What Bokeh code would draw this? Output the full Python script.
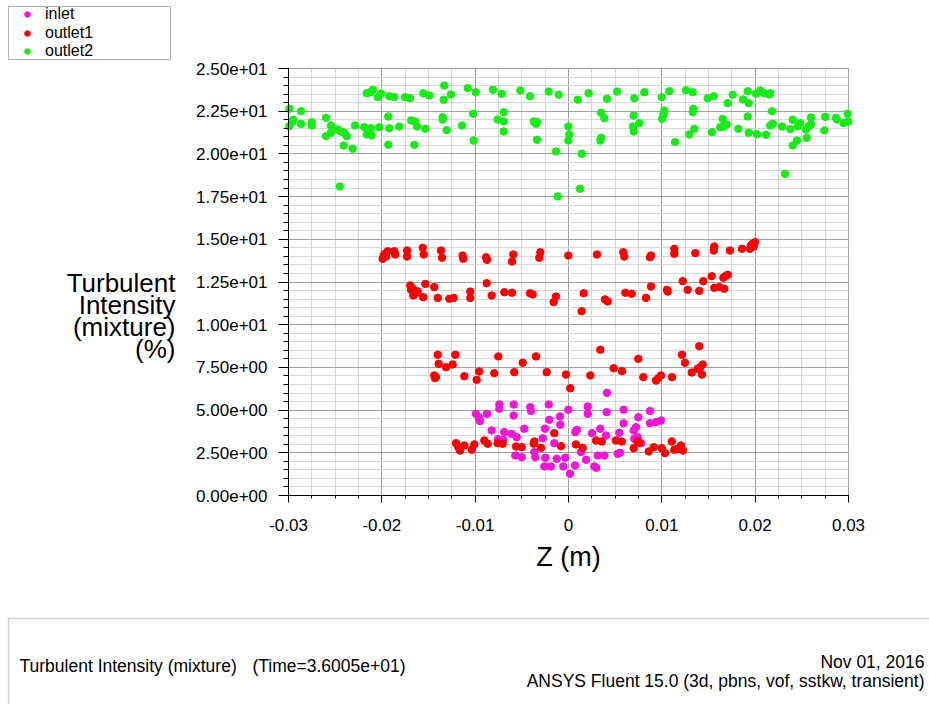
from bokeh.plotting import figure
from bokeh.models import (ColumnDataSource, Range1d, FixedTicker, Label, Legend,
                          LegendItem, BoxAnnotation)
from bokeh.embed import file_html
from bokeh.resources import INLINE

FONT = "Liberation Sans"

# ---------------- data (Z in metres, turbulent intensity in %) ----------------
inlet_z = [-0.00991, -0.00962, -0.00948, -0.00873, -0.00823, -0.00741, -0.00741, -0.00755,
           -0.00699, -0.00688, -0.00587, -0.00587, -0.00609, -0.00555, -0.00570, -0.00501,
           -0.00474, -0.00409, -0.00402, -0.00366, -0.00356, -0.00276, -0.00252, -0.00249,
           -0.00259, -0.00188, -0.00212, -0.00206, -0.00152, -0.00126, -0.00091, -0.00088,
           -0.00056, -0.00034, -0.00002, 0.00016, 0.00070, 0.00091, 0.00073, 0.00134,
           0.00188, 0.00206, 0.00206, 0.00252, 0.00276, 0.00298, 0.00313, 0.00384,
           0.00341, 0.00402, 0.00412, 0.00409, 0.00527, 0.00552, 0.00544, 0.00591,
           0.00591, 0.00699, 0.00723, 0.00705, 0.00741, 0.00748, 0.00777, 0.00873,
           0.00873, 0.00937, 0.00991]
inlet_ti = [4.78, 4.58, 4.35, 4.78, 3.81, 5.33, 5.08, 3.30,
            3.26, 3.71, 5.33, 4.68, 3.61, 3.41, 2.34, 2.24,
            3.91, 5.17, 4.94, 2.54, 2.24, 3.35, 3.91, 2.21,
            1.70, 1.70, 5.33, 4.43, 3.06, 2.15, 4.63, 4.14,
            1.70, 2.21, 5.02, 1.27, 1.76, 3.85, 3.71, 2.54,
            2.09, 5.21, 4.78, 3.65, 1.70, 1.62, 2.34, 2.34,
            3.91, 3.51, 6.01, 4.88, 2.44, 2.50, 3.67, 5.02,
            4.23, 3.81, 4.00, 3.32, 3.41, 4.58, 3.06, 4.94,
            4.23, 4.29, 4.39]

outlet1_z = [
    # upper band
    -0.01991, -0.01980, -0.01966, -0.01955, -0.01937, -0.01866, -0.01856, -0.01730,
    -0.01730, -0.01562, -0.01551, -0.01366, -0.01355, -0.01134, -0.01127, -0.00884,
    -0.00873, -0.00591, -0.00605, -0.00302, -0.00313, -0.00002, 0.00305, 0.00587,
    0.00598, 0.00873, 0.00884, 0.01134, 0.01134, 0.01359, 0.01562, 0.01556,
    0.01730, 0.01859, 0.01945, 0.01955, 0.01973, 0.01998, 0.01984,
    # second band
    -0.01695, -0.01669, -0.01652, -0.01687, -0.01634, -0.01616, -0.01663, -0.01534,
    -0.01556, -0.01438, -0.01401, -0.01277, -0.01230, -0.01052, -0.01052, -0.00876,
    -0.00823, -0.00688, -0.00605, -0.00412, -0.00384, -0.00159, -0.00134, 0.00163,
    0.00141, 0.00391, 0.00420, 0.00609, 0.00677, 0.00830, 0.00884, 0.01055,
    0.01063, 0.01224, 0.01277, 0.01401, 0.01444, 0.01534, 0.01562, 0.01616,
    0.01669, 0.01659, 0.01687, 0.01706,
    # third band
    -0.01401, -0.01391, -0.01438, -0.01430, -0.01420, -0.01312, -0.01241, -0.01213,
    -0.01116, -0.00984, -0.00956, -0.00795, -0.00752, -0.00581, -0.00491, -0.00348,
    -0.00234, -0.00027, 0.00019, 0.00234, 0.00341, 0.00484, 0.00573, 0.00748,
    0.00801, 0.00937, 0.00962, 0.00991, 0.01109, 0.01216, 0.01248, 0.01320,
    0.01401, 0.01384, 0.01412, 0.01438, 0.01430,
    # lowest band
    -0.01205, -0.01162, -0.01116, -0.01181, -0.01037, -0.01009, -0.00902, -0.00866,
    -0.00759, -0.00705, -0.00562, -0.00501, -0.00366, -0.00373, -0.00295, -0.00152,
    -0.00080, 0.00080, 0.00152, 0.00295, 0.00356, 0.00509, 0.00570, 0.00699,
    0.00759, 0.00741, 0.00859, 0.00913, 0.00999, 0.01034, 0.01106, 0.01134,
    0.01170, 0.01205, 0.01227]
outlet1_ti = [
    13.86, 14.05, 14.15, 13.99, 14.30, 14.30, 14.11, 14.34,
    13.99, 14.50, 14.11, 14.34, 13.92, 14.05, 13.86, 13.95,
    13.80, 14.11, 13.70, 14.24, 13.92, 14.05, 14.11, 14.24,
    13.99, 13.95, 14.05, 14.44, 14.15, 14.19, 14.58, 14.34,
    14.34, 14.44, 14.44, 14.64, 14.74, 14.83, 14.58,
    12.30, 12.10, 12.00, 12.04, 11.84, 11.94, 11.71, 12.39,
    11.61, 12.20, 11.57, 11.52, 11.57, 11.94, 11.57, 12.43,
    11.71, 11.90, 11.87, 11.84, 11.77, 11.32, 11.65, 11.84,
    10.79, 11.48, 11.36, 11.87, 11.81, 11.57, 12.24, 12.04,
    11.94, 12.55, 12.04, 11.98, 12.55, 12.84, 12.16, 12.20,
    12.10, 12.75, 12.86, 12.92,
    8.24, 7.71, 7.03, 6.87, 6.93, 7.51, 7.67, 8.24,
    6.98, 6.77, 7.26, 7.16, 8.14, 7.22, 7.77, 8.14,
    7.22, 7.08, 6.28, 7.03, 8.53, 7.45, 7.28, 8.00,
    6.93, 6.73, 6.87, 7.03, 6.93, 8.24, 7.77, 7.20,
    8.74, 7.42, 7.51, 7.67, 7.08,
    3.06, 2.63, 2.93, 2.83, 2.68, 2.99, 3.22, 3.03,
    3.06, 3.03, 2.87, 2.83, 3.16, 3.03, 2.79, 3.65,
    2.89, 2.99, 2.79, 3.22, 3.16, 3.22, 3.16, 2.77,
    3.09, 3.16, 2.58, 2.83, 2.77, 2.48, 3.16, 2.68,
    2.73, 2.93, 2.63]

outlet2_z = [
    -0.02991, -0.02948, -0.02962, -0.02991, -0.02866, -0.02866, -0.02751, -0.02751,
    -0.02598, -0.02545, -0.02598, -0.02545, -0.02473, -0.02437, -0.02402, -0.02376,
    -0.02409, -0.02312, -0.02287, -0.02451, -0.02188, -0.02116, -0.02162, -0.02109,
    -0.02162, -0.02124, -0.02095, -0.02044, -0.02009, -0.02027, -0.01931, -0.01920,
    -0.01931, -0.01920, -0.01866, -0.01813, -0.01752, -0.01698, -0.01687, -0.01645,
    -0.01623, -0.01652, -0.01556, -0.01491, -0.01534, -0.01348, -0.01348, -0.01331,
    -0.01337, -0.01259, -0.01305, -0.01141, -0.01080, -0.00994, -0.01023, -0.01016,
    -0.00809, -0.00716, -0.00759, -0.00694, -0.00694, -0.00694, -0.00516, -0.00412,
    -0.00373, -0.00348, -0.00337, -0.00337, -0.00212, -0.00105, -0.00134, -0.00116,
    -0.00002, 0.00009, -0.00002, 0.00099, 0.00141, 0.00123, 0.00216, 0.00348,
    0.00384, 0.00348, 0.00341, 0.00412, 0.00520, 0.00699, 0.00691, 0.00699,
    0.00759, 0.00705, 0.00812, 0.00999, 0.01080, 0.01026, 0.01016, 0.01002,
    0.01141, 0.01259, 0.01331, 0.01337, 0.01331, 0.01348, 0.01294, 0.01491,
    0.01556, 0.01537, 0.01652, 0.01626, 0.01663, 0.01695, 0.01706, 0.01759,
    0.01819, 0.01870, 0.01931, 0.01920, 0.01920, 0.01931, 0.02020, 0.02009,
    0.02055, 0.02098, 0.02162, 0.02151, 0.02180, 0.02116, 0.02162, 0.02188,
    0.02287, 0.02402, 0.02376, 0.02456, 0.02483, 0.02448, 0.02402, 0.02320,
    0.02545, 0.02573, 0.02598, 0.02598, 0.02552, 0.02751, 0.02741, 0.02866,
    0.02877, 0.02948, 0.02991, 0.02998]
outlet2_ti = [
    22.64, 22.00, 21.86, 21.62, 22.50, 21.76, 21.86, 21.66,
    22.11, 21.66, 21.04, 21.24, 21.43, 21.31, 21.24, 21.04,
    20.49, 20.30, 21.66, 18.09, 21.56, 21.50, 21.14, 21.08,
    23.55, 23.61, 23.75, 23.32, 23.52, 21.56, 22.19, 21.50,
    20.53, 23.38, 23.32, 21.60, 23.32, 23.26, 21.96, 21.90,
    21.60, 20.53, 23.55, 23.42, 21.47, 22.15, 22.01, 24.00,
    23.17, 23.48, 21.39, 21.66, 23.85, 23.61, 22.35, 20.78,
    23.75, 23.52, 22.01, 21.90, 22.44, 21.31, 23.71, 23.38,
    21.90, 21.76, 21.86, 20.83, 23.65, 23.46, 20.14, 17.51,
    21.60, 21.14, 20.78, 23.17, 20.01, 17.96, 23.55, 22.41,
    22.09, 20.94, 20.78, 23.23, 23.65, 22.25, 21.60, 21.31,
    21.80, 23.26, 23.61, 23.32, 23.67, 22.54, 22.29, 22.05,
    20.69, 23.73, 23.61, 22.64, 22.44, 21.47, 21.14, 23.26,
    23.38, 21.27, 22.05, 21.56, 21.60, 21.72, 22.97, 23.46,
    21.47, 23.19, 22.97, 23.67, 22.19, 21.24, 21.15, 23.52,
    23.71, 23.55, 23.55, 23.48, 22.50, 21.12, 21.66, 21.76,
    21.60, 22.00, 21.45, 21.62, 21.80, 20.78, 20.49, 18.83,
    21.43, 21.62, 21.72, 22.13, 20.94, 22.17, 21.37, 22.11,
    22.01, 21.80, 22.35, 21.90]

series_names = ["inlet", "outlet1", "outlet2"]
series_colors = ["#f514d8", "#ff0000", "#16ec16"]

x_ticks = [-0.03, -0.02, -0.01, 0.0, 0.01, 0.02, 0.03]
x_tick_labels = ["-0.03", "-0.02", "-0.01", "0", "0.01", "0.02", "0.03"]
y_ticks = [0.0, 2.5, 5.0, 7.5, 10.0, 12.5, 15.0, 17.5, 20.0, 22.5, 25.0]
y_tick_labels = ["0.00e+00", "2.50e+00", "5.00e+00", "7.50e+00", "1.00e+01", "1.25e+01",
                 "1.50e+01", "1.75e+01", "2.00e+01", "2.25e+01", "2.50e+01"]
x_minor = [i * 0.0025 for i in range(-12, 13)]
y_minor = [i * 0.5 for i in range(0, 51)]
x_lim = (-0.03, 0.03)
y_lim = (0.0, 25.0)

y_title_lines = ["Turbulent", "Intensity", "(mixture)", "(%)"]
footer_left = ["Turbulent Intensity (mixture)", "(Time=3.6005e+01)"]
footer_right = ["Nov 01, 2016", "ANSYS Fluent 15.0 (3d, pbns, vof, sstkw, transient)"]

# ---------------- layout geometry (pixels on the 929x704 canvas) ----------------
W, H = 929, 704
PL, PR, PT, PB = 288, 848, 68, 495          # plot-area edges
sx = (PR - PL) / (x_lim[1] - x_lim[0])
sy = (PB - PT) / (y_lim[1] - y_lim[0])
x_range = Range1d(x_lim[0] - PL / sx, x_lim[1] + (W - PR) / sx)
y_range = Range1d(y_lim[0] - (H - PB) / sy, y_lim[1] + PT / sy)

p = figure(width=W, height=H, output_backend="svg", toolbar_location=None,
           x_range=x_range, y_range=y_range,
           min_border_left=0, min_border_right=0, min_border_top=0, min_border_bottom=0)
p.title.visible = False
p.background_fill_color = "white"
p.border_fill_color = "white"
p.outline_line_color = None

xt = FixedTicker(ticks=x_ticks, minor_ticks=x_minor)
yt = FixedTicker(ticks=y_ticks, minor_ticks=y_minor)
p.xaxis.ticker = xt
p.yaxis.ticker = yt
p.xgrid.ticker = xt
p.ygrid.ticker = yt
p.xaxis.major_label_overrides = dict(zip(x_ticks, x_tick_labels))
p.yaxis.major_label_overrides = dict(zip(y_ticks, y_tick_labels))

# axes drawn at the plot-area edges, limited to the data window
p.xaxis.fixed_location = y_lim[0]
p.yaxis.fixed_location = x_lim[0]
p.xaxis.bounds = x_lim
p.yaxis.bounds = y_lim
p.xgrid.bounds = x_lim
p.xgrid.cross_bounds = y_lim
p.ygrid.bounds = y_lim
p.ygrid.cross_bounds = x_lim

for g in (p.xgrid, p.ygrid):
    g.grid_line_color = "#a0a0a0"
    g.minor_grid_line_color = "#d6d6d6"
    g.grid_line_width = 1
    g.minor_grid_line_width = 1

for ax in (p.xaxis, p.yaxis):
    ax.axis_line_color = "black"
    ax.major_tick_line_color = "black"
    ax.minor_tick_line_color = "black"
    ax.major_tick_in = 0
    ax.minor_tick_in = 0
    ax.major_label_text_font = FONT
    ax.major_label_text_font_size = "17px"
    ax.major_label_text_color = "black"

p.yaxis.major_tick_out = 10
p.yaxis.minor_tick_out = 5
p.yaxis.major_label_standoff = 11
p.xaxis.major_tick_out = 7
p.xaxis.minor_tick_out = 3
p.xaxis.major_label_standoff = 16

p.xaxis.axis_label = "Z (m)"
p.xaxis.axis_label_text_font = FONT
p.xaxis.axis_label_text_font_size = "27px"
p.xaxis.axis_label_text_font_style = "normal"
p.xaxis.axis_label_text_color = "black"
p.xaxis.axis_label_standoff = 8

renderers = []
for zs, tis, col in ((inlet_z, inlet_ti, series_colors[0]),
                     (outlet1_z, outlet1_ti, series_colors[1]),
                     (outlet2_z, outlet2_ti, series_colors[2])):
    src = ColumnDataSource(dict(z=zs, ti=tis))
    r = p.scatter(x="z", y="ti", source=src, size=7.5, marker="circle",
                  fill_color=col, line_color=col)
    renderers.append(r)

# legend: one framed box in the top-left corner, entries closely stacked
p.add_layout(BoxAnnotation(left=8, right=170, top=H - 6, bottom=H - 59,
                           left_units="screen", right_units="screen",
                           top_units="screen", bottom_units="screen",
                           fill_color="white", fill_alpha=1,
                           line_color="black", line_width=1))
for name, r, bottom in zip(series_names, renderers, (23, 41.5, 60)):
    lg = Legend(items=[LegendItem(label=name, renderers=[r])],
                location=(9, H - bottom), margin=0, padding=0, spacing=0,
                glyph_width=36, glyph_height=14, label_height=14, label_width=110,
                label_standoff=0, label_text_font=FONT, label_text_font_size="16px",
                label_text_color="black",
                border_line_color=None, background_fill_alpha=0)
    p.add_layout(lg)

# y-axis title (horizontal, right aligned, 4 lines)
for txt, base in zip(y_title_lines, (282, 304, 326, 348)):
    p.add_layout(Label(x=175, y=H - base, x_units="screen", y_units="screen", text=txt,
                       text_align="right", text_baseline="alphabetic", text_font=FONT,
                       text_font_size="26px", text_color="black"))

# footer box and texts
p.add_layout(BoxAnnotation(left=8, right=W + 50, top=H - 618, bottom=-50,
                           left_units="screen", right_units="screen",
                           top_units="screen", bottom_units="screen",
                           fill_alpha=0, line_color="#707070", line_width=1.5))
p.add_layout(Label(x=19, y=H - 665, x_units="screen", y_units="screen",
                   text=footer_left[0], text_align="left", text_baseline="alphabetic",
                   text_font=FONT, text_font_size="17.5px", text_color="black"))
p.add_layout(Label(x=405, y=H - 665, x_units="screen", y_units="screen",
                   text=footer_left[1], text_align="right", text_baseline="alphabetic",
                   text_font=FONT, text_font_size="17.5px", text_color="black"))
p.add_layout(Label(x=924, y=H - 661, x_units="screen", y_units="screen",
                   text=footer_right[0], text_align="right", text_baseline="alphabetic",
                   text_font=FONT, text_font_size="17.5px", text_color="black"))
p.add_layout(Label(x=924, y=H - 680, x_units="screen", y_units="screen",
                   text=footer_right[1], text_align="right", text_baseline="alphabetic",
                   text_font=FONT, text_font_size="17.5px", text_color="black"))

open("out.html", "w").write(file_html(p, INLINE))
